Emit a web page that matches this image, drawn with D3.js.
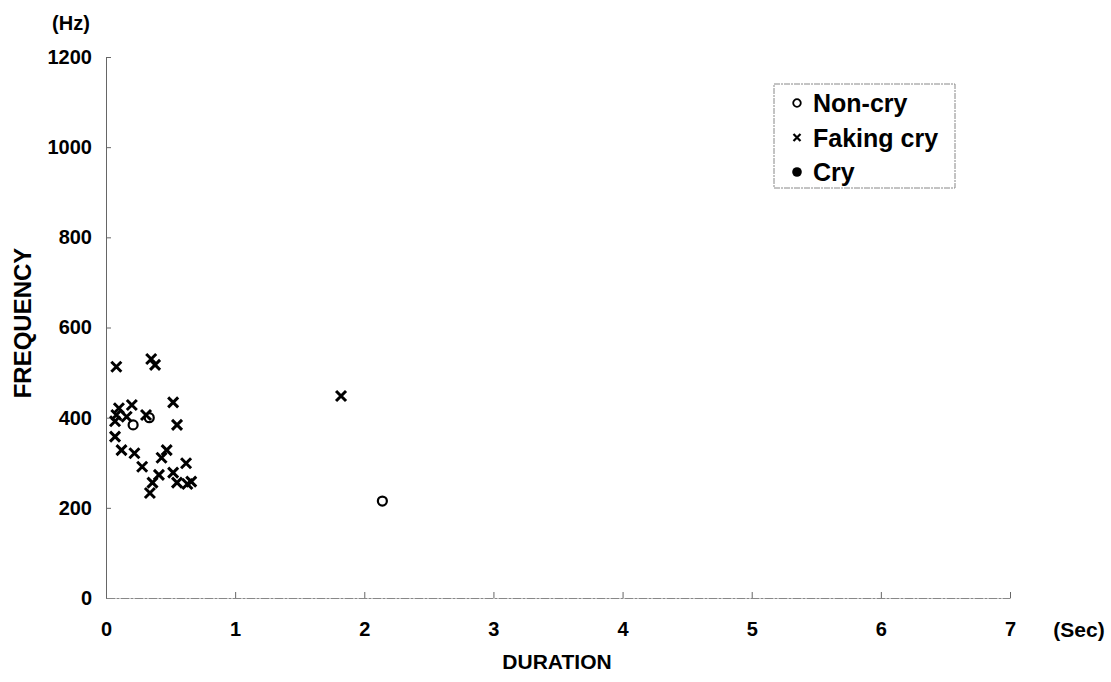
<!DOCTYPE html>
<html>
<head>
<meta charset="utf-8">
<script src="https://cdn.jsdelivr.net/npm/d3@7"></script>
<style>
  body { margin: 0; background: #fff; }
  svg text { font-family: "Liberation Sans", Arial, sans-serif; font-weight: bold; fill: #000; }
</style>
</head>
<body>
<svg id="chart" width="1111" height="682"></svg>
<script>
// Data
const xTicks = [0, 1, 2, 3, 4, 5, 6, 7];
const yTicks = [0, 200, 400, 600, 800, 1000, 1200];

const nonCryDuration = [0.21, 0.335, 2.14];
const nonCryFreq = [384, 400, 215];

const fakingDuration = [0.08, 0.35, 0.38, 0.52, 0.20, 0.10, 0.08, 0.16, 0.31, 0.07, 0.55, 0.07, 0.12,
    0.22, 0.28, 0.47, 0.43, 0.62, 0.52, 0.41, 0.36, 0.55, 0.63, 0.66, 0.34, 1.82];
const fakingFreq = [513, 530, 517, 434, 428, 421, 406, 402, 406, 392, 384, 358, 328,
    321, 291, 328, 311, 299, 278, 273, 256, 256, 253, 258, 233, 448];

const cryDuration = [];
const cryFreq = [];

const legendLabels = ["Non-cry", "Faking cry", "Cry"];

const svg = d3.select("#chart");

const x = d3.scaleLinear().domain([0, 7]).range([106, 1010]);
const y = d3.scaleLinear().domain([0, 1200]).range([598, 57]);

// y axis
const yAxis = svg.append("g")
    .attr("transform", `translate(${x(0)},0)`)
    .call(d3.axisLeft(y).tickValues(yTicks).tickFormat(d3.format("d"))
        .tickSizeInner(-5).tickSizeOuter(0).tickPadding(14));
yAxis.select(".domain").attr("stroke", "#666");
yAxis.selectAll(".tick line").attr("stroke", "#666");
yAxis.selectAll("text").style("font-size", "20px");

// x axis
const xAxis = svg.append("g")
    .attr("transform", `translate(0,${y(0)})`)
    .call(d3.axisBottom(x).tickValues(xTicks).tickFormat(d3.format("d"))
        .tickSizeInner(-6).tickSizeOuter(0).tickPadding(24));
xAxis.select(".domain").attr("stroke", "#888").attr("stroke-dasharray", "9,1,3,1");
xAxis.selectAll(".tick line").attr("stroke", "#666");
xAxis.selectAll("text").style("font-size", "20px");

// unit labels
svg.append("text").attr("x", 71).attr("y", 30).attr("text-anchor", "middle")
    .style("font-size", "20px").text("(Hz)");
svg.append("text").attr("x", 1079).attr("y", 637).attr("text-anchor", "middle")
    .style("font-size", "21px").text("(Sec)");

// axis titles
svg.append("text").attr("x", 557).attr("y", 669).attr("text-anchor", "middle")
    .style("font-size", "21px").text("DURATION");
svg.append("text").attr("transform", "translate(31,323) rotate(-90)").attr("text-anchor", "middle")
    .style("font-size", "24px").text("FREQUENCY");

// marks
const crossPath = s => `M${-s},${-s}L${s},${s}M${-s},${s}L${s},${-s}`;

svg.append("g").selectAll("path")
    .data(d3.zip(fakingDuration, fakingFreq))
    .join("path")
    .attr("transform", d => `translate(${x(d[0])},${y(d[1])})`)
    .attr("d", crossPath(5))
    .attr("stroke", "#000").attr("stroke-width", 3).attr("fill", "none");

svg.append("g").selectAll("circle")
    .data(d3.zip(nonCryDuration, nonCryFreq))
    .join("circle")
    .attr("cx", d => x(d[0])).attr("cy", d => y(d[1])).attr("r", 4.5)
    .attr("stroke", "#000").attr("stroke-width", 2.2).attr("fill", "none");

svg.append("g").selectAll("circle")
    .data(d3.zip(cryDuration, cryFreq))
    .join("circle")
    .attr("cx", d => x(d[0])).attr("cy", d => y(d[1])).attr("r", 4.5)
    .attr("fill", "#000");

// legend
const legend = svg.append("g").attr("transform", "translate(774,84)");
legend.append("rect").attr("width", 181).attr("height", 104)
    .attr("fill", "#fff").attr("stroke", "#888").attr("stroke-dasharray", "6,1,2,1");

const rows = legend.selectAll("g.row").data(legendLabels).join("g")
    .attr("class", "row")
    .attr("transform", (d, i) => `translate(23,${19 + i * 34.5})`);
rows.append("text").attr("x", 16).attr("dy", "0.36em")
    .style("font-size", "25px").text(d => d);

rows.filter((d, i) => i === 0).append("circle").attr("r", 3.8)
    .attr("fill", "none").attr("stroke", "#000").attr("stroke-width", 1.8);
rows.filter((d, i) => i === 1).append("path").attr("d", crossPath(3.5))
    .attr("stroke", "#000").attr("stroke-width", 2.2);
rows.filter((d, i) => i === 2).append("circle").attr("r", 4.8).attr("fill", "#000");
</script>
</body>
</html>
